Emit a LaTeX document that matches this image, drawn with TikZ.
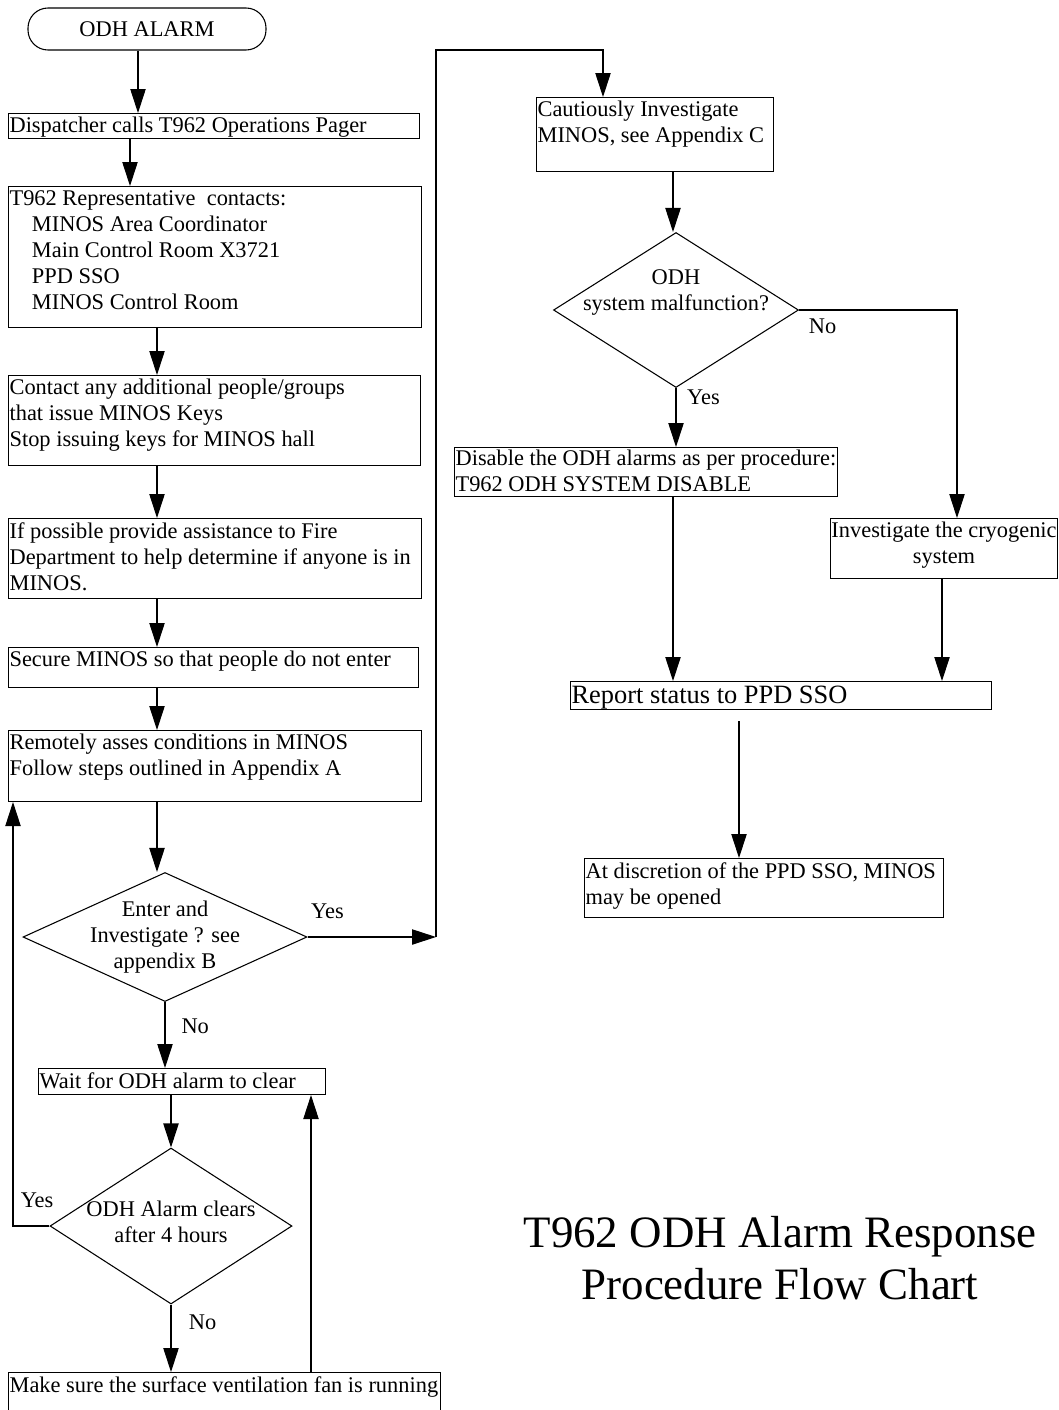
\documentclass[tikz,border=0pt]{standalone}
\usepackage{fontspec}
\setmainfont{Liberation Serif}
\usetikzlibrary{arrows.meta,shapes.geometric}
\newcommand{\fcfont}{\fontsize{16.8pt}{19.5pt}\selectfont}
\newcommand{\fcbigfont}{\fontsize{19.8pt}{24pt}\selectfont}
\newcommand{\fctitlefont}{\fontsize{33.7pt}{39pt}\selectfont}
\tikzstyle{terminal}=[draw,rectangle,rounded corners=15pt,line width=0.8pt,font=\fcfont]
\tikzstyle{procbox}=[draw,rectangle,anchor=north west,inner sep=0pt,line width=0.8pt]
\tikzstyle{ptext}=[anchor=north west,align=left,inner xsep=1pt,inner ysep=3pt,font=\fcfont]
\tikzstyle{ctext}=[anchor=north,align=center,inner xsep=0pt,inner ysep=3pt,font=\fcfont]
\tikzstyle{decision}=[draw,diamond,inner sep=0pt,line width=0.8pt]
\tikzstyle{dtext}=[align=center,font=\fcfont]
\tikzstyle{lbl}=[font=\fcfont,inner sep=3pt]
\tikzstyle{link}=[line width=0.8pt]
\tikzstyle{arr}=[link,-{Triangle[length=18pt,width=11.5pt]}]

\begin{document}
\begin{tikzpicture}[x=0.75pt,y=-0.75pt]
\useasboundingbox (0,0) rectangle (1058,1410);
\foreach \cx in {13,130,138,157,311,436,673,739,942,957}
    \coordinate (c\cx) at (\cx,0);
\coordinate (jtop) at (603,50);

% left column
\node[terminal,minimum width=178.5pt,minimum height=31.5pt] (start) at (147,29) {ODH ALARM};
\node[procbox,minimum width=308.25pt,minimum height=18.75pt,
  label={[ptext]north west:{Dispatcher calls T962 Operations Pager}}] (disp) at (8,113) {};
\node[procbox,minimum width=309.75pt,minimum height=105.75pt,
  label={[ptext]north west:{T962 Representative\ \ contacts:\\
    \hspace*{1em}MINOS Area Coordinator\\
    \hspace*{1em}Main Control Room X3721\\
    \hspace*{1em}PPD SSO\\
    \hspace*{1em}MINOS Control Room}}] (rep) at (8,186) {};
\node[procbox,minimum width=309pt,minimum height=67.5pt,
  label={[ptext]north west:{Contact any additional people/groups\\that issue MINOS Keys\\Stop issuing keys for MINOS hall}}] (keys) at (8,375) {};
\node[procbox,minimum width=309.75pt,minimum height=60pt,
  label={[ptext]north west:{If possible provide assistance to Fire\\Department to help determine if anyone is in\\MINOS.}}] (fire) at (8,518) {};
\node[procbox,minimum width=307.5pt,minimum height=30pt,
  label={[ptext]north west:{Secure MINOS so that people do not enter}}] (secure) at (8,647) {};
\node[procbox,minimum width=309.75pt,minimum height=53.25pt,
  label={[ptext]north west:{Remotely asses conditions in MINOS\\Follow steps outlined in Appendix A}}] (assess) at (8,730) {};
\node[decision,minimum width=213pt,minimum height=96.75pt] (d1) at (165,937) {};
\node[dtext] (d1t) at (d1) {Enter and\\Investigate ? see\\appendix B};
\node[procbox,minimum width=215.25pt,minimum height=19.5pt,
  label={[ptext]north west:{Wait for ODH alarm to clear}}] (wait) at (38,1068) {};
\node[decision,minimum width=181.5pt,minimum height=117pt] (d3) at (171,1226) {};
\node[dtext,yshift=3pt] (d3t) at (d3) {ODH Alarm clears\\after 4 hours};
\node[procbox,minimum width=324pt,minimum height=37.5pt,
  label={[ptext]north west:{Make sure the surface ventilation fan is running}}] (fan) at (8,1372) {};

% right column
\node[procbox,minimum width=177.75pt,minimum height=55.5pt,
  label={[ptext]north west:{Cautiously Investigate\\MINOS, see Appendix C}}] (caut) at (536,97) {};
\node[decision,minimum width=183.75pt,minimum height=116.25pt] (d2) at (676,310) {};
\node[dtext,yshift=13pt] (d2t) at (d2) {ODH\\system malfunction?};
\node[procbox,minimum width=287.25pt,minimum height=36.75pt,
  label={[ptext,inner ysep=2pt]north west:{Disable the ODH alarms as per procedure:\\T962 ODH SYSTEM DISABLE}}] (disable) at (454,447) {};
\node[procbox,minimum width=170.25pt,minimum height=45pt,
  label={[ctext]north:{Investigate the cryogenic\\system}}] (cryo) at (830,518) {};
\node[procbox,minimum width=315.75pt,minimum height=21pt,
  label={[ptext,font=\fcbigfont,inner ysep=3.5pt]north west:{Report status to PPD SSO}}] (report) at (570,681) {};
\node[procbox,minimum width=269.25pt,minimum height=44.25pt,
  label={[ptext]north west:{At discretion of the PPD SSO, MINOS\\may be opened}}] (open) at (584,858) {};

\node[font=\fctitlefont,align=center] (ttl) at (780,1258) {T962 ODH Alarm Response\\Procedure Flow Chart};

% connectors
\draw[arr] (start.south -| c138) -- (disp.north -| c138);
\draw[arr] (disp.south -| c130) -- (rep.north -| c130);
\foreach \src/\dst in {rep/keys,keys/fire,fire/secure,secure/assess,assess/d1}
    \draw[arr] (\src.south -| c157) -- (\dst.north -| c157);
\draw[arr] (d1.south) -- (wait.north -| d1.south) node[lbl,pos=0.36,right=9pt] (no1) {No};
\draw[arr] (wait.south -| d3.north) -- (d3.north);
\draw[arr] (d3.south) -- (fan.north -| d3.south) node[lbl,pos=0.26,right=10pt] (no3) {No};
\draw[arr] (fan.north -| c311) -- (wait.south -| c311);
\draw[arr] (d3.west) -| (assess.south -| c13) node[lbl,pos=0.17,above=10pt] (yes3) {Yes};
\draw[arr] (d1.east) -- (d1.east -| c436) node[lbl,pos=0.155,above=10pt] (yes1) {Yes};
\draw[arr] (d1.east -| c436) |- (jtop) -- (caut.north -| jtop);
\draw[arr] (caut.south -| c673) -- (d2.north -| c673);
\draw[arr] (d2.south) -- (disable.north -| d2.south) node[lbl,pos=0.15,right=5pt] (yes2) {Yes};
\draw[arr] (d2.east) -| (cryo.north -| c957) node[lbl,pos=0,anchor=north west,xshift=4pt,yshift=-3pt] (no2) {No};
\draw[arr] (disable.south -| c673) -- (report.north -| c673);
\draw[arr] (cryo.south -| c942) -- (report.north -| c942);
\path (report.south -| c739) ++(0,11) coordinate (rgap);
\draw[arr] (rgap) -- (open.north -| rgap);
\end{tikzpicture}
\end{document}
